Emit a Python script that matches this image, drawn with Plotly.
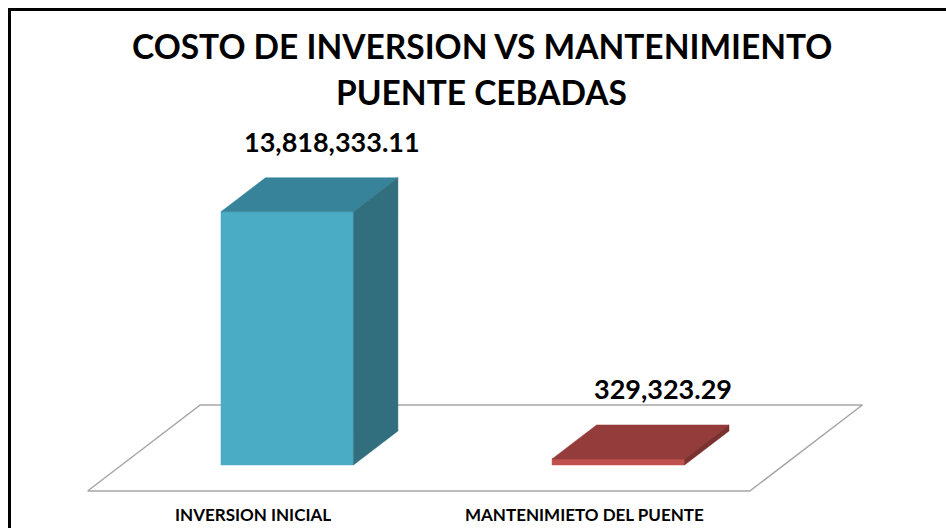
import plotly.graph_objects as go

# ---- chart data -------------------------------------------------------------
categories = ["INVERSION INICIAL", "MANTENIMIETO DEL PUENTE"]
values = [13818333.11, 329323.29]
value_labels = ["13,818,333.11", "329,323.29"]
title_lines = ["COSTO DE INVERSION VS MANTENIMIENTO", "PUENTE CEBADAS"]

# ---- colours (front, top, side) per bar ------------------------------------
face_colors = [
    ("#4BACC6", "#37849A", "#316E7E"),
    ("#C0504D", "#943C3B", "#7A3130"),
]

# ---- frame geometry --------------------------------------------------------
W, H = 946, 528
X0_PX = 287.2          # pixel column of the first category (front plane)
CAT_PX = 331.1         # pixels between neighbouring categories
Y0_PX = 465.0          # pixel row of the zero value on the front plane
PX_PER_UNIT = 18.33e-6 # vertical pixels per currency unit
DEPTH_PX_Y = 34.0      # vertical pixels for one bar depth
DEPTH_PX_X = 44.5      # horizontal pixels for one bar depth (oblique view)
HALF_W = 0.2           # half bar width, in category units
FLOOR_FRONT = -26.0 / DEPTH_PX_Y
FLOOR_BACK = 60.0 / DEPTH_PX_Y

FONT = "Lato, Liberation Sans Narrow, DejaVu Sans Condensed, sans-serif"


def proj(x, v, d):
    """Oblique projection of (category, value, depth) onto the 2-D axes."""
    return x + d * DEPTH_PX_X / CAT_PX, v + d * DEPTH_PX_Y / PX_PER_UNIT


def polygon(points, fill, line_color=None, line_width=0):
    xs, ys = zip(*[proj(*p) for p in points])
    return go.Scatter(
        x=list(xs) + [xs[0]], y=list(ys) + [ys[0]],
        mode="lines", fill="toself", fillcolor=fill,
        line=dict(color=line_color or fill, width=line_width),
        hoverinfo="skip", showlegend=False,
    )


fig = go.Figure()

# floor
n = len(categories)
fig.add_trace(polygon(
    [(-0.5, 0, FLOOR_FRONT), (n - 0.5, 0, FLOOR_FRONT),
     (n - 0.5, 0, FLOOR_BACK), (-0.5, 0, FLOOR_BACK)],
    "#FFFFFF", line_color="#A6A6A6", line_width=1.5,
))

# 3-D bars: front, top and right side faces
for i, (v, (c_front, c_top, c_side)) in enumerate(zip(values, face_colors)):
    l, r = i - HALF_W, i + HALF_W
    fig.add_trace(polygon([(l, 0, 0), (r, 0, 0), (r, v, 0), (l, v, 0)], c_front, line_width=0.5))
    fig.add_trace(polygon([(l, v, 0), (r, v, 0), (r, v, 1), (l, v, 1)], c_top, line_width=0.5))
    fig.add_trace(polygon([(r, 0, 0), (r, 0, 1), (r, v, 1), (r, v, 0)], c_side, line_width=0.5))

    # value label above the bar
    lx, ly = proj(i, v, 1)
    fig.add_annotation(
        x=lx, y=ly, text=value_labels[i], showarrow=False,
        xanchor="center", yanchor="bottom", yshift=18,
        font=dict(family=FONT, size=27, color="#000000", weight="bold"),
    )

    # category label under the floor
    cx, cy = proj(i, 0, FLOOR_FRONT)
    fig.add_annotation(
        x=cx, y=cy, text=categories[i], showarrow=False,
        xanchor="center", yanchor="top", yshift=-11,
        font=dict(family=FONT, size=17, color="#000000", weight="bold"),
    )

# title
for k, line in enumerate(title_lines):
    fig.add_annotation(
        xref="paper", yref="paper", x=481.5 / W, y=1 - (46 + 46 * k) / H,
        text=line, showarrow=False, xanchor="center", yanchor="middle",
        font=dict(family=FONT, size=33.5, color="#000000", weight="bold"),
    )

# chart border
fig.add_shape(
    type="rect", xref="paper", yref="paper",
    x0=9.5 / W, x1=1.05, y0=-0.05, y1=1 - 9.5 / H,
    line=dict(color="#000000", width=3), fillcolor="rgba(0,0,0,0)",
)

fig.update_layout(
    width=W, height=H,
    margin=dict(l=0, r=0, t=0, b=0),
    paper_bgcolor="#FFFFFF", plot_bgcolor="#FFFFFF",
    xaxis=dict(range=[-X0_PX / CAT_PX, (W - X0_PX) / CAT_PX], visible=False, fixedrange=True),
    yaxis=dict(range=[-(H - Y0_PX) / PX_PER_UNIT, Y0_PX / PX_PER_UNIT], visible=False, fixedrange=True),
    showlegend=False,
)

fig.write_html("out.html")
